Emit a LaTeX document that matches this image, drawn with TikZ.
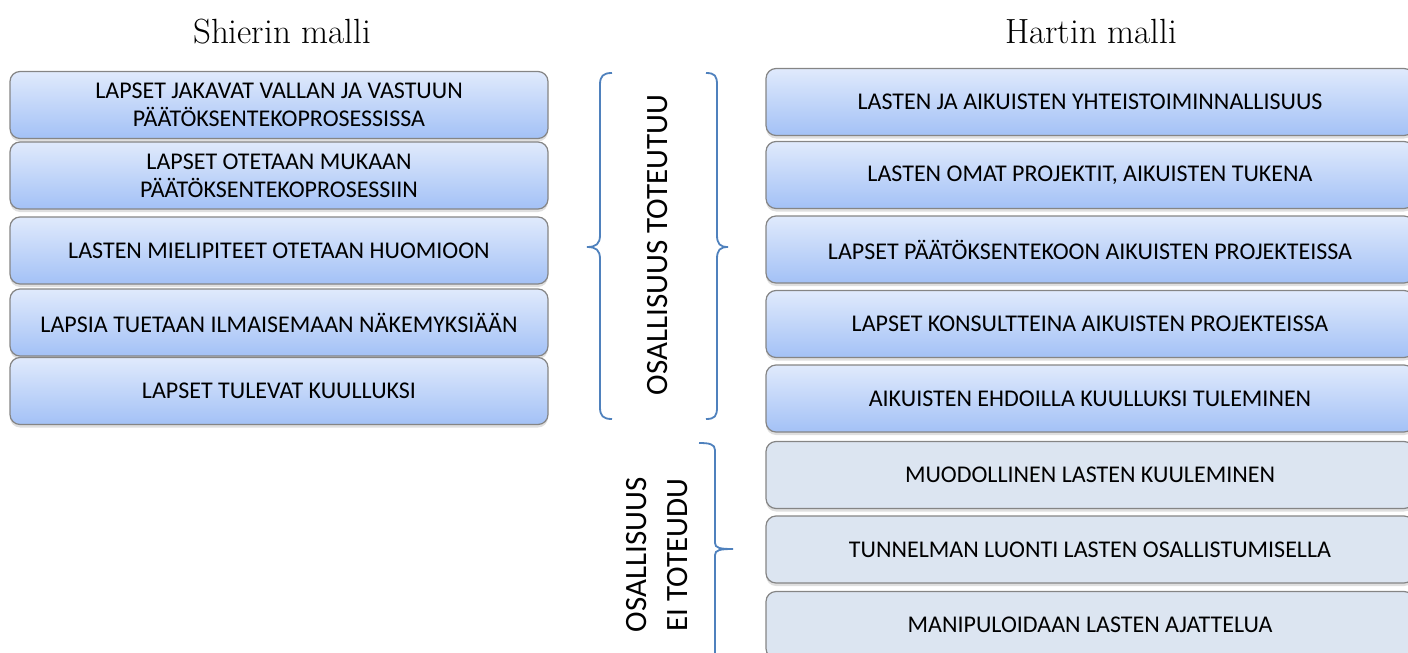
\documentclass[tikz,border=0pt]{standalone}
\usepackage{fontspec}
\newfontfamily\boxfont{Carlito}
\usetikzlibrary{shadows}
\definecolor{bracecol}{HTML}{4F81BD}
\definecolor{boxtop}{HTML}{E0EAFC}
\definecolor{boxbot}{HTML}{A3C1F6}
\definecolor{boxgray}{HTML}{DCE5F1}
\definecolor{boxline}{HTML}{858585}
\tikzset{
  basebox/.style={draw=boxline, line width=1.2pt, rounded corners=10pt,
    minimum height=67pt, align=center, inner sep=2pt,
    font=\boxfont\fontsize{24}{28}\selectfont,
    drop shadow={opacity=0.25, shadow xshift=0pt, shadow yshift=-3pt}},
  lbox/.style={basebox, top color=boxtop, bottom color=boxbot, minimum width=538pt},
  rbox/.style={basebox, top color=boxtop, bottom color=boxbot, minimum width=648pt},
  gbox/.style={basebox, fill=boxgray, minimum width=648pt},
  titlestyle/.style={anchor=base, font=\fontsize{35}{40}\selectfont},
  sidelabel/.style={rotate=90, align=center, font=\boxfont\fontsize{31}{41}\selectfont},
  bracestyle/.style={draw=bracecol, line width=1.8pt}
}
\begin{document}
\begin{tikzpicture}[x=1pt,y=-1pt]
\useasboundingbox (0,0) rectangle (1408,653);
\clip (0,0) rectangle (1408,653);

\node[titlestyle] (t1) at (282,43) {Shierin malli};
\node[titlestyle] (t2) at (1091,43) {Hartin malli};

\node[lbox] (s1) at (279,105) {LAPSET JAKAVAT VALLAN JA VASTUUN\\PÄÄTÖKSENTEKOPROSESSISSA};
\node[lbox] (s2) at (279,175.5) {LAPSET OTETAAN MUKAAN\\PÄÄTÖKSENTEKOPROSESSIIN};
\node[lbox] (s3) at (279,250.5) {LASTEN MIELIPITEET OTETAAN HUOMIOON};
\node[lbox] (s4) at (279,322.5) {LAPSIA TUETAAN ILMAISEMAAN NÄKEMYKSIÄÄN};
\node[lbox] (s5) at (279,391) {LAPSET TULEVAT KUULLUKSI};

\node[rbox] (h1) at (1090,102) {LASTEN JA AIKUISTEN YHTEISTOIMINNALLISUUS};
\node[rbox] (h2) at (1090,175) {LASTEN OMAT PROJEKTIT, AIKUISTEN TUKENA};
\node[rbox] (h3) at (1090,249.5) {LAPSET PÄÄTÖKSENTEKOON AIKUISTEN PROJEKTEISSA};
\node[rbox] (h4) at (1090,324) {LAPSET KONSULTTEINA AIKUISTEN PROJEKTEISSA};
\node[rbox] (h5) at (1090,398.5) {AIKUISTEN EHDOILLA KUULLUKSI TULEMINEN};
\node[gbox] (h6) at (1090,475) {MUODOLLINEN LASTEN KUULEMINEN};
\node[gbox] (h7) at (1090,549.5) {TUNNELMAN LUONTI LASTEN OSALLISTUMISELLA};
\node[gbox] (h8) at (1090,625) {MANIPULOIDAAN LASTEN AJATTELUA};

\node[sidelabel] (l1) at (658,245) {OSALLISUUS TOTEUTUU};
\node[sidelabel] (l2) at (657,555) {OSALLISUUS\\EI TOTEUDU};

% left brace
\path[bracestyle] (612,73) .. controls (603,73) and (600,76) .. (600,85)
  -- (600,235) .. controls (600,244) and (596,247) .. (587,247)
  .. controls (596,247) and (600,250) .. (600,259)
  -- (600,407) .. controls (600,416) and (603,419) .. (612,419);
% right brace
\path[bracestyle] (706,73) .. controls (715,73) and (717,76) .. (717,85)
  -- (717,235) .. controls (717,244) and (720,247) .. (728,247)
  .. controls (720,247) and (717,250) .. (717,259)
  -- (717,407) .. controls (717,416) and (715,419) .. (706,419);
% lower brace
\path[bracestyle] (699,443) .. controls (709,443) and (715,444) .. (715,450)
  -- (715,543) .. controls (715,548) and (720,549) .. (733,549)
  .. controls (720,549) and (715,550) .. (715,555)
  -- (715,665);
\end{tikzpicture}
\end{document}
